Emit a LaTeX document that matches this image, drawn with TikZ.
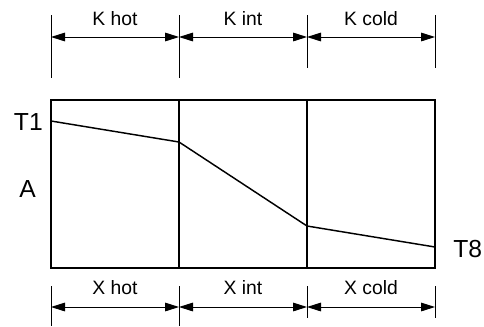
\documentclass[tikz,border=0pt]{standalone}
\usepackage{fontspec}
\setmainfont{Liberation Sans}
\usetikzlibrary{arrows.meta}

\begin{document}
\begin{tikzpicture}[x=0.75pt, y=-0.75pt,
  wall/.style={line width=1.1pt},
  tickline/.style={line width=0.7pt},
  dimline/.style={line width=0.7pt,
    {Triangle[length=10.5pt,width=6.5pt]}-{Triangle[length=10.5pt,width=6.5pt]}},
  dimlabel/.style={font=\fontsize{14.5}{17}\selectfont, inner sep=0pt, anchor=base},
  templabel/.style={font=\fontsize{18.5}{22}\selectfont, inner sep=0pt}]
  \useasboundingbox (0,0) rectangle (484,326);
  % wall corners
  \coordinate (W0t) at (51,100);
  \coordinate (W1t) at (179,100);
  \coordinate (W2t) at (307,100);
  \coordinate (W3t) at (435,100);
  \coordinate (W0b) at (51,268);
  \coordinate (W1b) at (179,268);
  \coordinate (W2b) at (307,268);
  \coordinate (W3b) at (435,268);
  \draw[wall] (W0t) rectangle (W3b);
  \draw[wall] (W1t) -- (W1b);
  \draw[wall] (W2t) -- (W2b);
  % temperature profile
  \coordinate (Thot) at (51,121);
  \coordinate (Tone) at (179,142);
  \coordinate (Ttwo) at (307,226);
  \coordinate (Tcold) at (435,247);
  \draw[wall] (Thot) -- (Tone) -- (Ttwo) -- (Tcold);
  \node[templabel, anchor=base east] (T1) at (43,130) {T1};
  \node[templabel, anchor=base] (A) at (27.5,197) {A};
  \node[templabel, anchor=base west] (T8) at (453,257) {T8};
  % upper dimension ticks
  \coordinate (K0a) at (51,15);  \coordinate (K0b) at (51,78);
  \coordinate (K1a) at (179,15); \coordinate (K1b) at (179,78);
  \coordinate (K2a) at (307,15); \coordinate (K2b) at (307,68);
  \coordinate (K3a) at (435,15); \coordinate (K3b) at (435,68);
  \draw[tickline] (K0a) -- (K0b);
  \draw[tickline] (K1a) -- (K1b);
  \draw[tickline] (K2a) -- (K2b);
  \draw[tickline] (K3a) -- (K3b);
  \coordinate (K0) at (51,37);
  \coordinate (K1) at (179,37);
  \coordinate (K2) at (307,37);
  \coordinate (K3) at (435,37);
  \draw[dimline] (K0) -- (K1);
  \draw[dimline] (K1) -- (K2);
  \draw[dimline] (K2) -- (K3);
  \node[dimlabel] (Khot) at (115,25) {K hot};
  \node[dimlabel] (Kint) at (243,25) {K int};
  \node[dimlabel] (Kcold) at (371,25) {K cold};
  % lower dimension ticks
  \coordinate (X0a) at (51,286);  \coordinate (X0b) at (51,326);
  \coordinate (X1a) at (179,286); \coordinate (X1b) at (179,326);
  \coordinate (X2a) at (307,286); \coordinate (X2b) at (307,318);
  \coordinate (X3a) at (435,286); \coordinate (X3b) at (435,318);
  \draw[tickline] (X0a) -- (X0b);
  \draw[tickline] (X1a) -- (X1b);
  \draw[tickline] (X2a) -- (X2b);
  \draw[tickline] (X3a) -- (X3b);
  \coordinate (X0) at (51,307);
  \coordinate (X1) at (179,307);
  \coordinate (X2) at (307,307);
  \coordinate (X3) at (435,307);
  \draw[dimline] (X0) -- (X1);
  \draw[dimline] (X1) -- (X2);
  \draw[dimline] (X2) -- (X3);
  \node[dimlabel] (Xhot) at (115,294) {X hot};
  \node[dimlabel] (Xint) at (243,294) {X int};
  \node[dimlabel] (Xcold) at (371,294) {X cold};
\end{tikzpicture}
\end{document}
